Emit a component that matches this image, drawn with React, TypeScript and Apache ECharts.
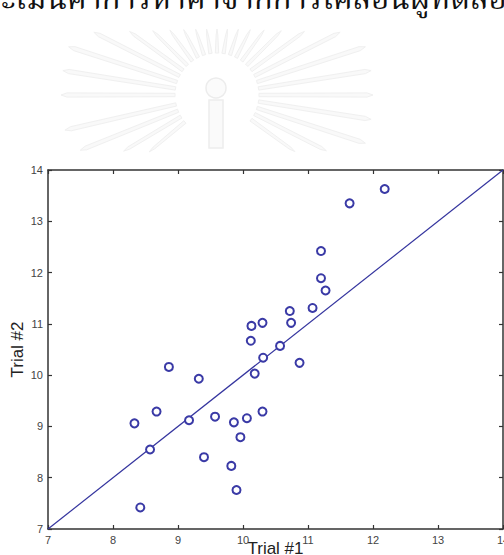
import React, { useEffect, useRef } from "react";
import * as echarts from "echarts";

const trial1 = [12.18, 11.64, 11.2, 11.2, 11.27, 11.07, 10.72, 10.74, 10.3, 10.13, 10.12, 10.57, 10.31, 10.87, 10.18, 10.3, 8.86, 9.32, 8.33, 8.67, 9.17, 9.57, 9.86, 10.06, 9.96, 8.57, 9.4, 9.82, 9.9, 8.42];
const trial2 = [13.63, 13.35, 12.42, 11.89, 11.65, 11.31, 11.25, 11.02, 11.02, 10.96, 10.67, 10.57, 10.34, 10.24, 10.03, 9.29, 10.16, 9.93, 9.06, 9.29, 9.12, 9.19, 9.08, 9.16, 8.79, 8.55, 8.4, 8.23, 7.76, 7.42];
const identityLine = [[7, 7], [14, 14]];
const axisMin = 7;
const axisMax = 14;
const xTitle = "Trial #1";
const yTitle = "Trial #2";
const headerText = "ผลการประเมินค่าการหาค่าจากการเคลื่อนผู้ทดลองจากรอบ";

function buildWatermark() {
  const cx = 217;
  const cy = 95;
  const items: any[] = [];
  const angles: number[] = [];
  for (let a = -180; a <= 0; a += 9) angles.push(a);
  for (let a = 9; a <= 40; a += 9) angles.push(a);
  for (let a = 140; a <= 171; a += 9) angles.push(a);
  angles.forEach((deg) => {
    const t = (deg * Math.PI) / 180;
    const r0 = 42;
    let r1 = 150;
    const s = Math.sin(t);
    if (s < 0) r1 = Math.min(r1, (cy - 35) / -s);
    if (s > 0) r1 = Math.min(r1, (148 - cy) / s);
    const w = 0.04;
    const p = (r: number, d: number) => [cx + r * Math.cos(t + d), cy + r * Math.sin(t + d)];
    items.push({
      type: "polygon",
      silent: true,
      shape: { points: [p(r0, -w), p(r1, -w * 0.35), p(r1 + 6, 0), p(r1, w * 0.35), p(r0, w)] },
      style: { fill: "#f9f9f9", stroke: "#f0f0f0", lineWidth: 1 },
    });
  });
  items.push({ type: "circle", silent: true, shape: { cx: 216, cy: 88, r: 10 }, style: { fill: "#fbfbfb", stroke: "#ececec", lineWidth: 1.5 } });
  items.push({ type: "rect", silent: true, shape: { x: 209, y: 100, width: 14, height: 48 }, style: { fill: "#fafafa", stroke: "#ededed", lineWidth: 1.5 } });
  return items;
}

export default function App() {
  const ref = useRef<HTMLDivElement>(null);
  useEffect(() => {
    if (!ref.current) return;
    const chart = echarts.init(ref.current, null, { renderer: "svg" });
    const pts = trial1.map((x, i) => [x, trial2[i]]);
    const axisLine = { show: true, lineStyle: { color: "#333", width: 1.5 } };
    const tick = { show: true, inside: true, length: 4, lineStyle: { color: "#333", width: 1.2 } };
    const lbl = { color: "#444", fontSize: 11, fontFamily: "Liberation Sans, Arial, sans-serif" };
    chart.setOption({
      animation: false,
      backgroundColor: "#fff",
      grid: { left: 48, top: 170, width: 455, height: 359, containLabel: false, outerBoundsMode: "none" },
      graphic: [
        ...buildWatermark(),
        {
          type: "text",
          x: 252,
          y: 1,
          silent: true,
          style: {
            text: headerText,
            fontSize: 31,
            fontFamily: "Noto Serif Thai, Noto Sans Thai, Tlwg Typo, serif",
            fill: "#111",
            align: "center",
            verticalAlign: "middle",
          },
        },
      ],
      xAxis: [
        {
          type: "value",
          position: "bottom",
          min: axisMin,
          max: axisMax,
          interval: 1,
          axisLine,
          axisTick: tick,
          splitLine: { show: false },
          axisLabel: { ...lbl, margin: 5 },
          name: xTitle,
          nameLocation: "middle",
          nameGap: 11,
          nameMoveOverlap: false,
          nameTextStyle: { color: "#222", fontSize: 17, fontFamily: "Liberation Sans, Arial, sans-serif" },
        },
        {
          type: "value",
          position: "top",
          min: axisMin,
          max: axisMax,
          interval: 1,
          axisLine,
          axisTick: tick,
          splitLine: { show: false },
          axisLabel: { show: false },
        },
      ],
      yAxis: [
        {
          type: "value",
          position: "left",
          min: axisMin,
          max: axisMax,
          interval: 1,
          axisLine,
          axisTick: tick,
          splitLine: { show: false },
          axisLabel: { ...lbl, margin: 5 },
          name: yTitle,
          nameLocation: "middle",
          nameGap: 22,
          nameMoveOverlap: false,
          nameTextStyle: { color: "#222", fontSize: 17, fontFamily: "Liberation Sans, Arial, sans-serif" },
        },
        {
          type: "value",
          position: "right",
          min: axisMin,
          max: axisMax,
          interval: 1,
          axisLine,
          axisTick: tick,
          splitLine: { show: false },
          axisLabel: { show: false },
        },
      ],
      series: [
        {
          type: "line",
          data: identityLine,
          showSymbol: false,
          symbol: "none",
          lineStyle: { color: "#34349e", width: 1.2 },
          silent: true,
          z: 2,
        },
        {
          type: "scatter",
          data: pts,
          symbol: "emptyCircle",
          symbolSize: 8,
          itemStyle: { color: "#3a3aa6", borderColor: "#3a3aa6", borderWidth: 1.4, opacity: 1 },
          z: 3,
        },
      ],
    });
    return () => chart.dispose();
  }, []);
  return <div ref={ref} style={{ position: "fixed", left: 0, top: 0, width: 504, height: 555 }} />;
}
